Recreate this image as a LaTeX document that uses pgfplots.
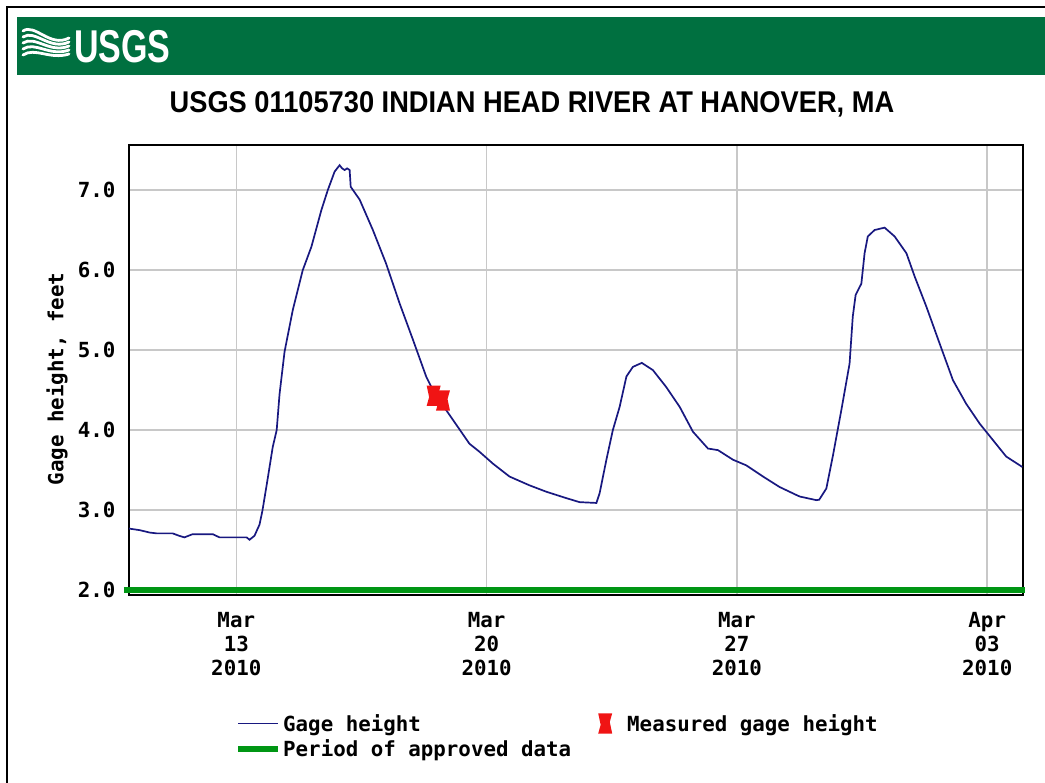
\documentclass[border=0pt]{standalone}
\usepackage{fontspec}
\usepackage{pgfplots}
\pgfplotsset{compat=1.18}
\setmainfont{Liberation Sans}
\newfontfamily\mono{DejaVu Sans Mono}
\definecolor{usgsgreen}{RGB}{0,112,64}
\definecolor{gageblue}{RGB}{24,24,128}
\definecolor{apprgreen}{RGB}{0,150,20}
\definecolor{measred}{RGB}{240,20,20}
\definecolor{gridgray}{RGB}{200,200,200}

\pgfdeclareplotmark{hourglass}{%
 \pgfpathmoveto{\pgfqpoint{-\pgfplotmarksize}{1.45\pgfplotmarksize}}%
 \pgfpathlineto{\pgfqpoint{\pgfplotmarksize}{1.45\pgfplotmarksize}}%
 \pgfpathlineto{\pgfqpoint{0.65\pgfplotmarksize}{0.2\pgfplotmarksize}}%
 \pgfpathlineto{\pgfqpoint{\pgfplotmarksize}{-1.45\pgfplotmarksize}}%
 \pgfpathlineto{\pgfqpoint{-\pgfplotmarksize}{-1.45\pgfplotmarksize}}%
 \pgfpathlineto{\pgfqpoint{-0.65\pgfplotmarksize}{-0.2\pgfplotmarksize}}%
 \pgfpathclose
 \pgfusepathqfill}

\pgfplotsset{
  linelegend/.style={legend image code/.code={\draw[##1] (0pt,0pt) -- (40pt,0pt);}},
  marklegend/.style={legend image code/.code={\path[draw=none] (0pt,0pt) (37pt,0pt);\draw[##1] plot coordinates {(17pt,0pt)};}},
}

\newcommand{\monof}{\mono\bfseries\fontsize{20.8}{24}\selectfont}

\begin{document}
\begin{tikzpicture}[x=1pt,y=1pt]
\useasboundingbox (0,0) rectangle (1045,783);
\fill[white] (0,0) rectangle (1045,783);
\draw[black, line width=2pt] (7,0) -- (7,776) -- (1045,776);
% header
\fill[usgsgreen] (17,708) rectangle (1045,766);
\foreach \k in {0,1,2,3,4}{
  \draw[white, line width=2.8pt, line cap=round]
    (23,752-6*\k) .. controls (35,760-6*\k) and (50,735-3*\k) .. (69,745-4*\k);
}
\node[white, font=\bfseries\fontsize{46}{46}\selectfont, xscale=0.74, anchor=base west, inner sep=0pt] at (74,720) {USGS};
% title
\node[font=\bfseries\fontsize{30}{30}\selectfont, xscale=0.908, anchor=base, inner sep=0pt] at (532,670) {USGS 01105730 INDIAN HEAD RIVER AT HANOVER, MA};

\begin{axis}[
  at={(129pt,188pt)}, anchor=south west,
  scale only axis, width=894pt, height=450pt,
  xmin=0, xmax=25, ymin=1.94, ymax=7.5625,
  clip=false,
  axis line style={black, line width=2pt},
  grid=major, grid style={gridgray, line width=1.5pt},
  major tick length=0pt,
  xtick={3,10,17,24},
  xticklabels={{Mar\\13\\2010},{Mar\\20\\2010},{Mar\\27\\2010},{Apr\\03\\2010}},
  xticklabel style={align=center, font=\monof, yshift=-14pt},
  ytick={2,3,4,5,6,7},
  yticklabels={2.0,3.0,4.0,5.0,6.0,7.0},
  yticklabel style={font=\monof, xshift=-10pt},
  ylabel={Gage height, feet},
  ylabel style={font=\monof, at={(axis description cs:-0.0805,0.48)}, anchor=center},
  legend columns=2,
  legend cell align=left,
  legend style={at={(axis description cs:0.1152,-0.2556)}, anchor=north west,
    draw=none, fill=none, font=\monof, row sep=3pt,
    /tikz/every even column/.append style={column sep=15pt}},
]
\addplot[gageblue, line width=1.7pt, linelegend]
coordinates {
(0.00,2.77) (0.30,2.75) (0.58,2.72) (0.77,2.71) (1.22,2.71) (1.40,2.68) (1.55,2.66)
(1.78,2.70) (2.34,2.70) (2.53,2.66) (3.29,2.66) (3.37,2.63) (3.51,2.68) (3.65,2.82)
(3.73,2.99) (3.87,3.37) (4.02,3.79) (4.13,4.00) (4.21,4.45) (4.35,4.98) (4.58,5.50)
(4.86,6.00) (5.10,6.29) (5.38,6.75) (5.56,7.00) (5.75,7.23) (5.89,7.31) (5.96,7.27)
(6.03,7.25) (6.10,7.27) (6.17,7.25) (6.20,7.04) (6.45,6.88) (6.82,6.50) (7.19,6.08)
(7.57,5.58) (7.94,5.13) (8.31,4.67) (8.59,4.42) (8.87,4.25) (9.52,3.83) (9.80,3.73)
(10.18,3.58) (10.64,3.42) (11.20,3.31) (11.67,3.23) (12.23,3.15) (12.60,3.10)
(13.07,3.09) (13.16,3.21) (13.35,3.63) (13.53,4.00) (13.72,4.29) (13.91,4.67)
(14.09,4.79) (14.34,4.84) (14.65,4.75) (15.02,4.54) (15.40,4.29) (15.77,3.98)
(16.19,3.77) (16.47,3.75) (16.89,3.63) (17.26,3.56) (17.73,3.42) (18.19,3.29)
(18.66,3.19) (18.76,3.17) (19.22,3.125) (19.30,3.13) (19.50,3.27) (19.68,3.67)
(19.92,4.25) (20.15,4.83) (20.24,5.42) (20.32,5.69) (20.48,5.83) (20.57,6.21)
(20.66,6.42) (20.85,6.50) (21.13,6.53) (21.41,6.42) (21.74,6.21) (21.97,5.92)
(22.30,5.54) (22.67,5.08) (23.04,4.625) (23.41,4.33) (23.79,4.08) (24.16,3.875)
(24.53,3.67) (24.98,3.54)
};
\addlegendentry{Gage height}
\addplot[only marks, mark=hourglass, mark size=7pt, color=measred, marklegend]
coordinates {(8.52,4.43) (8.78,4.37)};
\addlegendentry{Measured gage height}
\addplot[apprgreen, line width=6pt, linelegend]
coordinates {(-0.14,2.0) (25.06,2.0)};
\addlegendentry{Period of approved data}
\end{axis}
\end{tikzpicture}
\end{document}
